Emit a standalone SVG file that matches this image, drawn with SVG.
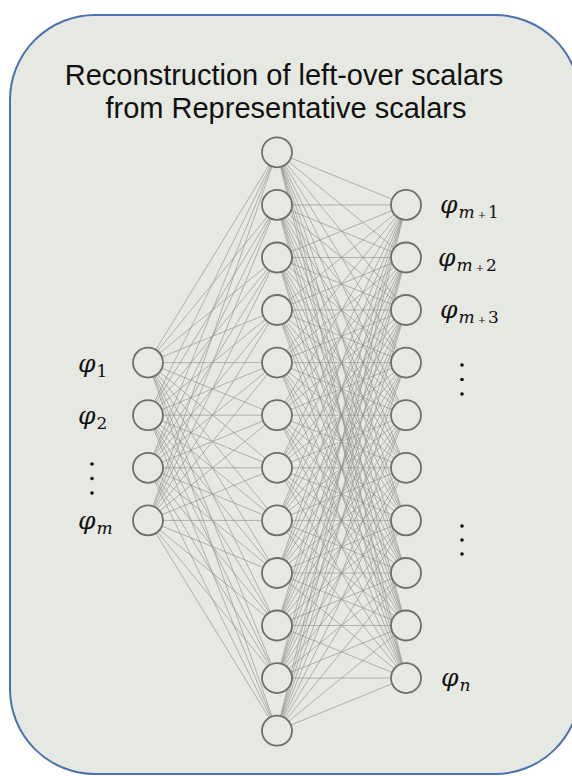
<svg xmlns="http://www.w3.org/2000/svg" width="572" height="776" viewBox="0 0 572 776">
  <style>
    .panel{fill:#e6e8e2;stroke:#4a70b0;stroke-width:2}
    .title{font-family:"Liberation Sans",Arial,sans-serif;font-size:29px;fill:#111;text-anchor:middle}
    .e{stroke:#8a8a8a;stroke-opacity:.6;stroke-width:1}
    .n{fill:#e6e8e2;stroke:#6e6e6e;stroke-width:1.8}
    .phi{font-family:"DejaVu Serif","Liberation Serif",serif;font-style:italic;font-size:25px;fill:#111}
    .sub{font-style:normal;font-size:17px}
    .subi{font-style:italic;font-size:17px}
    .pl{font-style:normal;font-size:10px}
    .dot{fill:#111}
  </style>
  <rect width="572" height="776" fill="#ffffff"/>
  <rect class="panel" x="10" y="15" width="570" height="759" rx="85" ry="85"/>

  <g id="title">
    <text class="title" x="284" y="85">Reconstruction of left-over scalars</text>
    <text class="title" x="286" y="118">from Representative scalars</text>
  </g>

  <g id="connectors">
    <!-- input layer to hidden layer -->
    <line class="e" x1="148" y1="362.6" x2="277" y2="152.3"/><line class="e" x1="148" y1="362.6" x2="277" y2="204.9"/><line class="e" x1="148" y1="362.6" x2="277" y2="257.5"/><line class="e" x1="148" y1="362.6" x2="277" y2="310"/><line class="e" x1="148" y1="362.6" x2="277" y2="362.6"/><line class="e" x1="148" y1="362.6" x2="277" y2="415.2"/><line class="e" x1="148" y1="362.6" x2="277" y2="467.8"/><line class="e" x1="148" y1="362.6" x2="277" y2="520.4"/><line class="e" x1="148" y1="362.6" x2="277" y2="573"/><line class="e" x1="148" y1="362.6" x2="277" y2="625.5"/><line class="e" x1="148" y1="362.6" x2="277" y2="678.1"/><line class="e" x1="148" y1="362.6" x2="277" y2="730.7"/>
    <line class="e" x1="148" y1="415.2" x2="277" y2="152.3"/><line class="e" x1="148" y1="415.2" x2="277" y2="204.9"/><line class="e" x1="148" y1="415.2" x2="277" y2="257.5"/><line class="e" x1="148" y1="415.2" x2="277" y2="310"/><line class="e" x1="148" y1="415.2" x2="277" y2="362.6"/><line class="e" x1="148" y1="415.2" x2="277" y2="415.2"/><line class="e" x1="148" y1="415.2" x2="277" y2="467.8"/><line class="e" x1="148" y1="415.2" x2="277" y2="520.4"/><line class="e" x1="148" y1="415.2" x2="277" y2="573"/><line class="e" x1="148" y1="415.2" x2="277" y2="625.5"/><line class="e" x1="148" y1="415.2" x2="277" y2="678.1"/><line class="e" x1="148" y1="415.2" x2="277" y2="730.7"/>
    <line class="e" x1="148" y1="467.8" x2="277" y2="152.3"/><line class="e" x1="148" y1="467.8" x2="277" y2="204.9"/><line class="e" x1="148" y1="467.8" x2="277" y2="257.5"/><line class="e" x1="148" y1="467.8" x2="277" y2="310"/><line class="e" x1="148" y1="467.8" x2="277" y2="362.6"/><line class="e" x1="148" y1="467.8" x2="277" y2="415.2"/><line class="e" x1="148" y1="467.8" x2="277" y2="467.8"/><line class="e" x1="148" y1="467.8" x2="277" y2="520.4"/><line class="e" x1="148" y1="467.8" x2="277" y2="573"/><line class="e" x1="148" y1="467.8" x2="277" y2="625.5"/><line class="e" x1="148" y1="467.8" x2="277" y2="678.1"/><line class="e" x1="148" y1="467.8" x2="277" y2="730.7"/>
    <line class="e" x1="148" y1="520.4" x2="277" y2="152.3"/><line class="e" x1="148" y1="520.4" x2="277" y2="204.9"/><line class="e" x1="148" y1="520.4" x2="277" y2="257.5"/><line class="e" x1="148" y1="520.4" x2="277" y2="310"/><line class="e" x1="148" y1="520.4" x2="277" y2="362.6"/><line class="e" x1="148" y1="520.4" x2="277" y2="415.2"/><line class="e" x1="148" y1="520.4" x2="277" y2="467.8"/><line class="e" x1="148" y1="520.4" x2="277" y2="520.4"/><line class="e" x1="148" y1="520.4" x2="277" y2="573"/><line class="e" x1="148" y1="520.4" x2="277" y2="625.5"/><line class="e" x1="148" y1="520.4" x2="277" y2="678.1"/><line class="e" x1="148" y1="520.4" x2="277" y2="730.7"/>
    <!-- hidden layer to output layer -->
    <line class="e" x1="277" y1="152.3" x2="406" y2="204.9"/><line class="e" x1="277" y1="152.3" x2="406" y2="257.5"/><line class="e" x1="277" y1="152.3" x2="406" y2="310"/><line class="e" x1="277" y1="152.3" x2="406" y2="362.6"/><line class="e" x1="277" y1="152.3" x2="406" y2="415.2"/><line class="e" x1="277" y1="152.3" x2="406" y2="467.8"/><line class="e" x1="277" y1="152.3" x2="406" y2="520.4"/><line class="e" x1="277" y1="152.3" x2="406" y2="573"/><line class="e" x1="277" y1="152.3" x2="406" y2="625.5"/><line class="e" x1="277" y1="152.3" x2="406" y2="678.1"/>
    <line class="e" x1="277" y1="204.9" x2="406" y2="204.9"/><line class="e" x1="277" y1="204.9" x2="406" y2="257.5"/><line class="e" x1="277" y1="204.9" x2="406" y2="310"/><line class="e" x1="277" y1="204.9" x2="406" y2="362.6"/><line class="e" x1="277" y1="204.9" x2="406" y2="415.2"/><line class="e" x1="277" y1="204.9" x2="406" y2="467.8"/><line class="e" x1="277" y1="204.9" x2="406" y2="520.4"/><line class="e" x1="277" y1="204.9" x2="406" y2="573"/><line class="e" x1="277" y1="204.9" x2="406" y2="625.5"/><line class="e" x1="277" y1="204.9" x2="406" y2="678.1"/>
    <line class="e" x1="277" y1="257.5" x2="406" y2="204.9"/><line class="e" x1="277" y1="257.5" x2="406" y2="257.5"/><line class="e" x1="277" y1="257.5" x2="406" y2="310"/><line class="e" x1="277" y1="257.5" x2="406" y2="362.6"/><line class="e" x1="277" y1="257.5" x2="406" y2="415.2"/><line class="e" x1="277" y1="257.5" x2="406" y2="467.8"/><line class="e" x1="277" y1="257.5" x2="406" y2="520.4"/><line class="e" x1="277" y1="257.5" x2="406" y2="573"/><line class="e" x1="277" y1="257.5" x2="406" y2="625.5"/><line class="e" x1="277" y1="257.5" x2="406" y2="678.1"/>
    <line class="e" x1="277" y1="310" x2="406" y2="204.9"/><line class="e" x1="277" y1="310" x2="406" y2="257.5"/><line class="e" x1="277" y1="310" x2="406" y2="310"/><line class="e" x1="277" y1="310" x2="406" y2="362.6"/><line class="e" x1="277" y1="310" x2="406" y2="415.2"/><line class="e" x1="277" y1="310" x2="406" y2="467.8"/><line class="e" x1="277" y1="310" x2="406" y2="520.4"/><line class="e" x1="277" y1="310" x2="406" y2="573"/><line class="e" x1="277" y1="310" x2="406" y2="625.5"/><line class="e" x1="277" y1="310" x2="406" y2="678.1"/>
    <line class="e" x1="277" y1="362.6" x2="406" y2="204.9"/><line class="e" x1="277" y1="362.6" x2="406" y2="257.5"/><line class="e" x1="277" y1="362.6" x2="406" y2="310"/><line class="e" x1="277" y1="362.6" x2="406" y2="362.6"/><line class="e" x1="277" y1="362.6" x2="406" y2="415.2"/><line class="e" x1="277" y1="362.6" x2="406" y2="467.8"/><line class="e" x1="277" y1="362.6" x2="406" y2="520.4"/><line class="e" x1="277" y1="362.6" x2="406" y2="573"/><line class="e" x1="277" y1="362.6" x2="406" y2="625.5"/><line class="e" x1="277" y1="362.6" x2="406" y2="678.1"/>
    <line class="e" x1="277" y1="415.2" x2="406" y2="204.9"/><line class="e" x1="277" y1="415.2" x2="406" y2="257.5"/><line class="e" x1="277" y1="415.2" x2="406" y2="310"/><line class="e" x1="277" y1="415.2" x2="406" y2="362.6"/><line class="e" x1="277" y1="415.2" x2="406" y2="415.2"/><line class="e" x1="277" y1="415.2" x2="406" y2="467.8"/><line class="e" x1="277" y1="415.2" x2="406" y2="520.4"/><line class="e" x1="277" y1="415.2" x2="406" y2="573"/><line class="e" x1="277" y1="415.2" x2="406" y2="625.5"/><line class="e" x1="277" y1="415.2" x2="406" y2="678.1"/>
    <line class="e" x1="277" y1="467.8" x2="406" y2="204.9"/><line class="e" x1="277" y1="467.8" x2="406" y2="257.5"/><line class="e" x1="277" y1="467.8" x2="406" y2="310"/><line class="e" x1="277" y1="467.8" x2="406" y2="362.6"/><line class="e" x1="277" y1="467.8" x2="406" y2="415.2"/><line class="e" x1="277" y1="467.8" x2="406" y2="467.8"/><line class="e" x1="277" y1="467.8" x2="406" y2="520.4"/><line class="e" x1="277" y1="467.8" x2="406" y2="573"/><line class="e" x1="277" y1="467.8" x2="406" y2="625.5"/><line class="e" x1="277" y1="467.8" x2="406" y2="678.1"/>
    <line class="e" x1="277" y1="520.4" x2="406" y2="204.9"/><line class="e" x1="277" y1="520.4" x2="406" y2="257.5"/><line class="e" x1="277" y1="520.4" x2="406" y2="310"/><line class="e" x1="277" y1="520.4" x2="406" y2="362.6"/><line class="e" x1="277" y1="520.4" x2="406" y2="415.2"/><line class="e" x1="277" y1="520.4" x2="406" y2="467.8"/><line class="e" x1="277" y1="520.4" x2="406" y2="520.4"/><line class="e" x1="277" y1="520.4" x2="406" y2="573"/><line class="e" x1="277" y1="520.4" x2="406" y2="625.5"/><line class="e" x1="277" y1="520.4" x2="406" y2="678.1"/>
    <line class="e" x1="277" y1="573" x2="406" y2="204.9"/><line class="e" x1="277" y1="573" x2="406" y2="257.5"/><line class="e" x1="277" y1="573" x2="406" y2="310"/><line class="e" x1="277" y1="573" x2="406" y2="362.6"/><line class="e" x1="277" y1="573" x2="406" y2="415.2"/><line class="e" x1="277" y1="573" x2="406" y2="467.8"/><line class="e" x1="277" y1="573" x2="406" y2="520.4"/><line class="e" x1="277" y1="573" x2="406" y2="573"/><line class="e" x1="277" y1="573" x2="406" y2="625.5"/><line class="e" x1="277" y1="573" x2="406" y2="678.1"/>
    <line class="e" x1="277" y1="625.5" x2="406" y2="204.9"/><line class="e" x1="277" y1="625.5" x2="406" y2="257.5"/><line class="e" x1="277" y1="625.5" x2="406" y2="310"/><line class="e" x1="277" y1="625.5" x2="406" y2="362.6"/><line class="e" x1="277" y1="625.5" x2="406" y2="415.2"/><line class="e" x1="277" y1="625.5" x2="406" y2="467.8"/><line class="e" x1="277" y1="625.5" x2="406" y2="520.4"/><line class="e" x1="277" y1="625.5" x2="406" y2="573"/><line class="e" x1="277" y1="625.5" x2="406" y2="625.5"/><line class="e" x1="277" y1="625.5" x2="406" y2="678.1"/>
    <line class="e" x1="277" y1="678.1" x2="406" y2="204.9"/><line class="e" x1="277" y1="678.1" x2="406" y2="257.5"/><line class="e" x1="277" y1="678.1" x2="406" y2="310"/><line class="e" x1="277" y1="678.1" x2="406" y2="362.6"/><line class="e" x1="277" y1="678.1" x2="406" y2="415.2"/><line class="e" x1="277" y1="678.1" x2="406" y2="467.8"/><line class="e" x1="277" y1="678.1" x2="406" y2="520.4"/><line class="e" x1="277" y1="678.1" x2="406" y2="573"/><line class="e" x1="277" y1="678.1" x2="406" y2="625.5"/><line class="e" x1="277" y1="678.1" x2="406" y2="678.1"/>
    <line class="e" x1="277" y1="730.7" x2="406" y2="204.9"/><line class="e" x1="277" y1="730.7" x2="406" y2="257.5"/><line class="e" x1="277" y1="730.7" x2="406" y2="310"/><line class="e" x1="277" y1="730.7" x2="406" y2="362.6"/><line class="e" x1="277" y1="730.7" x2="406" y2="415.2"/><line class="e" x1="277" y1="730.7" x2="406" y2="467.8"/><line class="e" x1="277" y1="730.7" x2="406" y2="520.4"/><line class="e" x1="277" y1="730.7" x2="406" y2="573"/><line class="e" x1="277" y1="730.7" x2="406" y2="625.5"/><line class="e" x1="277" y1="730.7" x2="406" y2="678.1"/>
  </g>

  <!-- input layer -->
  <g id="in1"><circle class="n" cx="148" cy="362.6" r="15"/><text class="phi" x="78" y="372">φ<tspan class="sub" dx="1" dy="5">1</tspan></text></g>
  <g id="in2"><circle class="n" cx="148" cy="415.2" r="15"/><text class="phi" x="78" y="424">φ<tspan class="sub" dx="1" dy="5">2</tspan></text></g>
  <g id="in3"><circle class="n" cx="148" cy="467.8" r="15"/>
    <circle class="dot" cx="92" cy="464" r="1.8"/><circle class="dot" cx="92" cy="478.5" r="1.8"/><circle class="dot" cx="92" cy="493" r="1.8"/></g>
  <g id="in4"><circle class="n" cx="148" cy="520.4" r="15"/><text class="phi" x="78" y="529">φ<tspan class="subi" dx="1" dy="5">m</tspan></text></g>

  <!-- hidden layer -->
  <g id="h1"><circle class="n" cx="277" cy="152.3" r="15"/></g>
  <g id="h2"><circle class="n" cx="277" cy="204.9" r="15"/></g>
  <g id="h3"><circle class="n" cx="277" cy="257.5" r="15"/></g>
  <g id="h4"><circle class="n" cx="277" cy="310" r="15"/></g>
  <g id="h5"><circle class="n" cx="277" cy="362.6" r="15"/></g>
  <g id="h6"><circle class="n" cx="277" cy="415.2" r="15"/></g>
  <g id="h7"><circle class="n" cx="277" cy="467.8" r="15"/></g>
  <g id="h8"><circle class="n" cx="277" cy="520.4" r="15"/></g>
  <g id="h9"><circle class="n" cx="277" cy="573" r="15"/></g>
  <g id="h10"><circle class="n" cx="277" cy="625.5" r="15"/></g>
  <g id="h11"><circle class="n" cx="277" cy="678.1" r="15"/></g>
  <g id="h12"><circle class="n" cx="277" cy="730.7" r="15"/></g>

  <!-- output layer -->
  <g id="out1"><circle class="n" cx="406" cy="204.9" r="15"/><text class="phi" x="440" y="213">φ<tspan class="subi" dx="1" dy="5">m</tspan><tspan class="pl" dx="3">+</tspan><tspan class="sub" dx="2">1</tspan></text></g>
  <g id="out2"><circle class="n" cx="406" cy="257.5" r="15"/><text class="phi" x="438" y="266">φ<tspan class="subi" dx="1" dy="5">m</tspan><tspan class="pl" dx="3">+</tspan><tspan class="sub" dx="2">2</tspan></text></g>
  <g id="out3"><circle class="n" cx="406" cy="310" r="15"/><text class="phi" x="440" y="318">φ<tspan class="subi" dx="1" dy="5">m</tspan><tspan class="pl" dx="3">+</tspan><tspan class="sub" dx="2">3</tspan></text></g>
  <g id="out4"><circle class="n" cx="406" cy="362.6" r="15"/>
    <circle class="dot" cx="462" cy="365" r="1.8"/><circle class="dot" cx="462" cy="379.5" r="1.8"/><circle class="dot" cx="462" cy="394" r="1.8"/></g>
  <g id="out5"><circle class="n" cx="406" cy="415.2" r="15"/></g>
  <g id="out6"><circle class="n" cx="406" cy="467.8" r="15"/></g>
  <g id="out7"><circle class="n" cx="406" cy="520.4" r="15"/>
    <circle class="dot" cx="462" cy="526" r="1.8"/><circle class="dot" cx="462" cy="540" r="1.8"/><circle class="dot" cx="462" cy="554" r="1.8"/></g>
  <g id="out8"><circle class="n" cx="406" cy="573" r="15"/></g>
  <g id="out9"><circle class="n" cx="406" cy="625.5" r="15"/></g>
  <g id="out10"><circle class="n" cx="406" cy="678.1" r="15"/><text class="phi" x="441" y="686">φ<tspan class="subi" dx="1" dy="5">n</tspan></text></g>
</svg>
